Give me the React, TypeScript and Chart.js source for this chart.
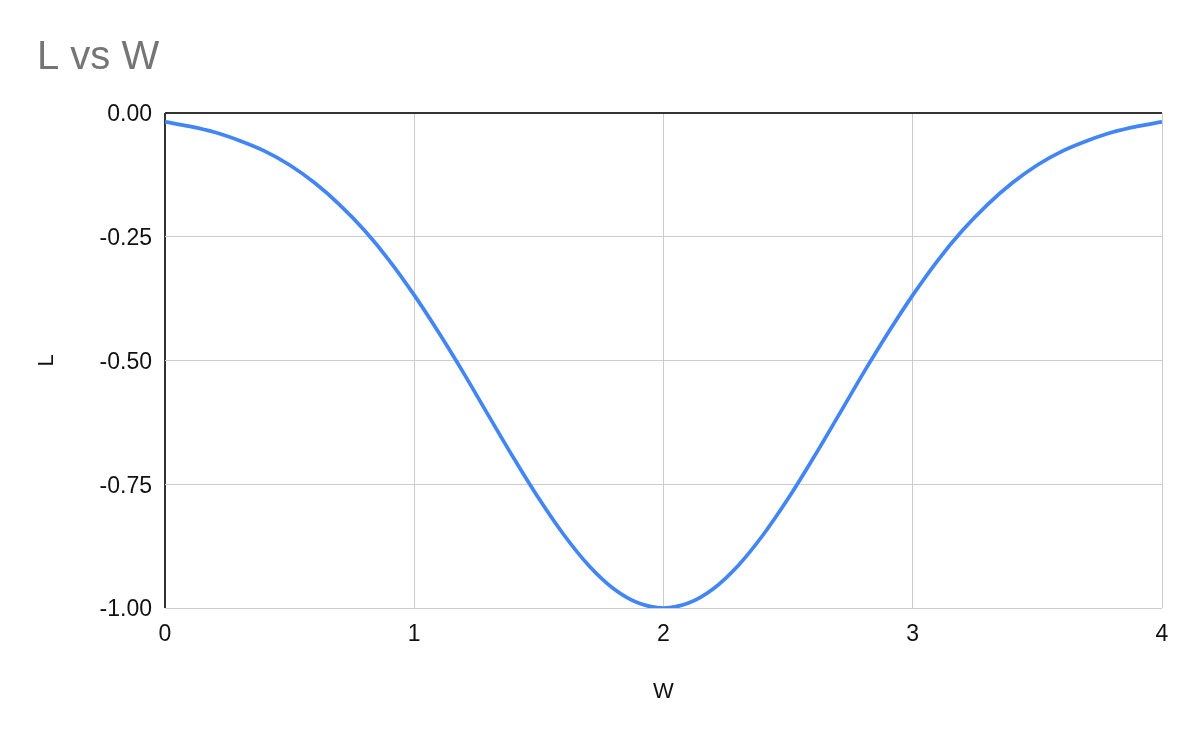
import React, { useEffect, useRef } from "react";
import { Chart, registerables } from "chart.js";

Chart.register(...registerables);

const wValues = [
  0, 0.1, 0.2, 0.3, 0.4, 0.5, 0.6, 0.7, 0.8, 0.9, 1.0, 1.1, 1.2, 1.3, 1.4, 1.5, 1.6, 1.7, 1.8, 1.9, 2.0,
  2.1, 2.2, 2.3, 2.4, 2.5, 2.6, 2.7, 2.8, 2.9, 3.0, 3.1, 3.2, 3.3, 3.4, 3.5, 3.6, 3.7, 3.8, 3.9, 4.0,
];
const lValues = [
  -0.018, -0.027, -0.039, -0.056, -0.077, -0.105, -0.141, -0.185, -0.237, -0.298, -0.368,
  -0.445, -0.527, -0.613, -0.698, -0.779, -0.852, -0.914, -0.961, -0.99, -1.0,
  -0.99, -0.961, -0.914, -0.852, -0.779, -0.698, -0.613, -0.527, -0.445, -0.368,
  -0.298, -0.237, -0.185, -0.141, -0.105, -0.077, -0.056, -0.039, -0.027, -0.018,
];
const chartTitle = "L vs W";
const xTitle = "W";
const yTitle = "L";

const FONT = "'Liberation Sans', Arial, sans-serif";
const TEXT = "#111111";

export default function App() {
  const ref = useRef<HTMLCanvasElement | null>(null);
  useEffect(() => {
    if (!ref.current) return;
    const titlePlugin = {
      id: "customTitle",
      afterDraw(chart: any) {
        const ctx = chart.ctx;
        ctx.save();
        ctx.font = `40px ${FONT}`;
        ctx.fillStyle = "#757575";
        ctx.textAlign = "left";
        ctx.textBaseline = "alphabetic";
        ctx.fillText(chartTitle, 37, 69);
        ctx.restore();
      },
    };
    const chart = new Chart(ref.current, {
      type: "line",
      data: {
        datasets: [
          {
            data: wValues.map((w, i) => ({ x: w, y: lValues[i] })),
            borderColor: "#4285F4",
            backgroundColor: "#4285F4",
            borderWidth: 3.7,
            pointRadius: 0,
            cubicInterpolationMode: "monotone",
            fill: false,
          },
        ],
      },
      options: {
        animation: false,
        responsive: false,
        maintainAspectRatio: false,
        layout: { padding: { top: 113, right: 38, left: 0, bottom: 0 } },
        plugins: { legend: { display: false }, title: { display: false }, tooltip: { enabled: false } },
        scales: {
          x: {
            type: "linear",
            min: 0,
            max: 4,
            ticks: {
              stepSize: 1,
              padding: 13,
              color: TEXT,
              font: { family: FONT, size: 23 },
              callback: (v: any) => String(v),
            },
            grid: {
              drawTicks: false,
              color: (c: any) => (c.tick && c.tick.value === 0 ? "#333" : "#cccccc"),
              lineWidth: (c: any) => (c.tick && c.tick.value === 0 ? 2 : 1),
            },
            border: { display: false },
            title: {
              display: true,
              text: xTitle,
              color: TEXT,
              font: { family: FONT, size: 22 },
              padding: { top: 0, bottom: 37 },
            },
            afterFit: (s: any) => {
              s.height = 134;
            },
          },
          y: {
            type: "linear",
            min: -1,
            max: 0,
            ticks: {
              stepSize: 0.25,
              padding: 13,
              labelOffset: 2,
              color: TEXT,
              font: { family: FONT, size: 23 },
              callback: (v: any) => Number(v).toFixed(2),
            },
            grid: {
              drawTicks: false,
              color: (c: any) => (c.tick && c.tick.value === 0 ? "#333" : "#cccccc"),
              lineWidth: (c: any) => (c.tick && c.tick.value === 0 ? 2 : 1),
            },
            border: { display: false },
            title: {
              display: true,
              text: yTitle,
              color: TEXT,
              font: { family: FONT, size: 22 },
              padding: { top: 34, bottom: 0 },
            },
            afterFit: (s: any) => {
              s.width = 165;
            },
          },
        },
      },
      plugins: [titlePlugin],
    } as any);
    return () => chart.destroy();
  }, []);
  return (
    <div style={{ position: "fixed", left: 0, top: 0, width: 1200, height: 742, background: "#fff" }}>
      <canvas ref={ref} width={1200} height={742} style={{ display: "block" }} />
    </div>
  );
}
